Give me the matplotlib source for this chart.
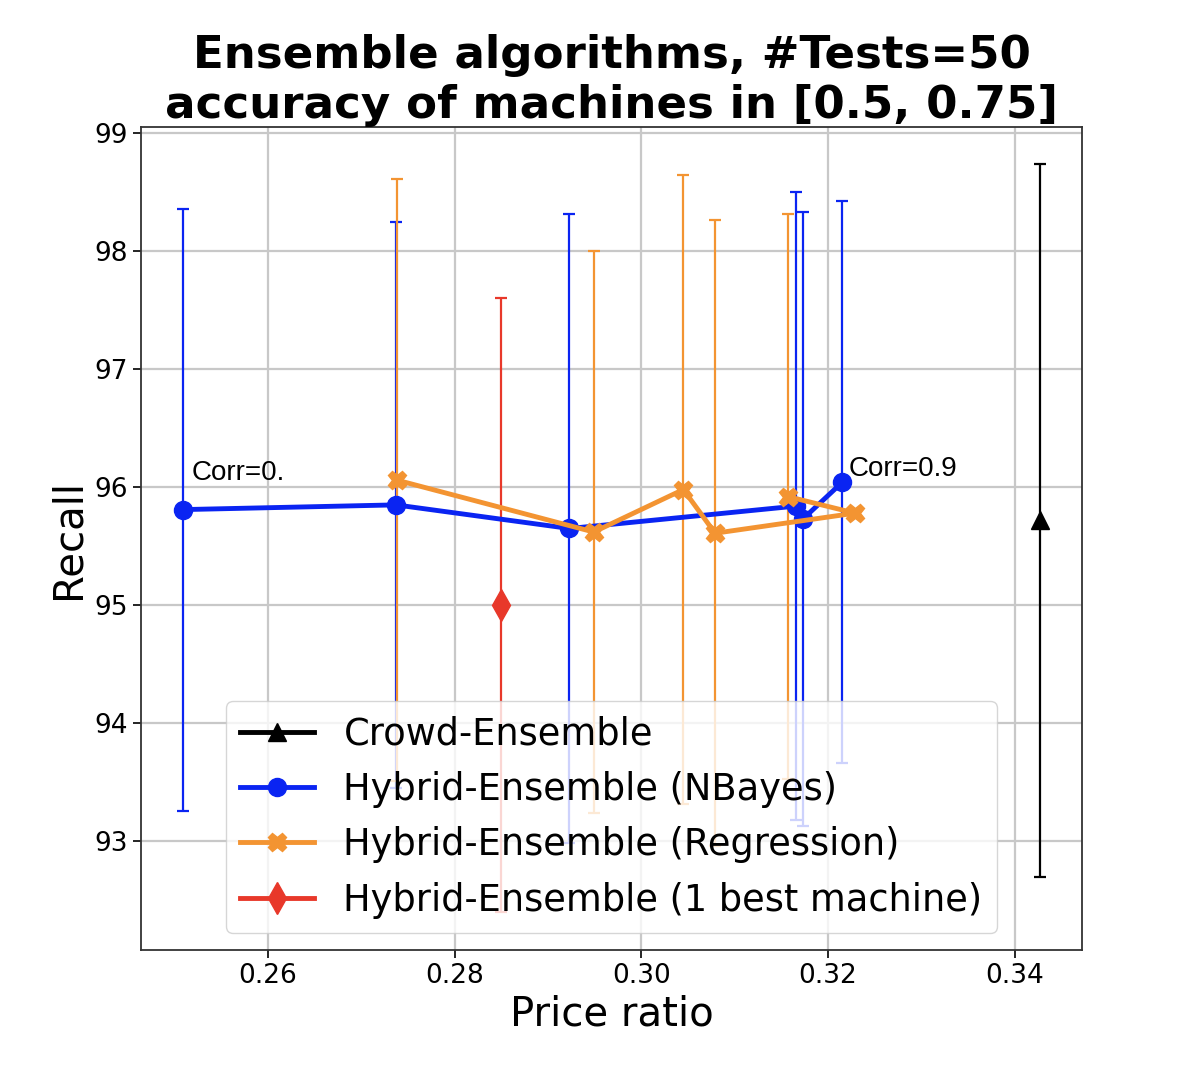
import matplotlib
matplotlib.use("Agg")
import matplotlib.pyplot as plt
from matplotlib.lines import Line2D

# Data
crowd_x = [0.3427]
crowd_y = [95.72]
crowd_err = [3.02]

nb_x = [0.2509, 0.2737, 0.2923, 0.3166, 0.3173, 0.3215]
nb_y = [95.81, 95.85, 95.65, 95.84, 95.73, 96.04]
nb_err = [2.55, 2.40, 2.66, 2.66, 2.60, 2.38]

reg_x = [0.2738, 0.2949, 0.3045, 0.3079, 0.3229, 0.3157]
reg_y = [96.06, 95.62, 95.98, 95.61, 95.78, 95.92]
reg_err = [2.55, 2.38, 2.66, 2.65, 0.0, 2.39]

best_x = [0.2850]
best_y = [95.00]
best_err = [2.60]

labels = ["Crowd-Ensemble", "Hybrid-Ensemble (NBayes)",
          "Hybrid-Ensemble (Regression)", "Hybrid-Ensemble (1 best machine)"]
corr_texts = ["Corr=0.", "Corr=0.9"]

c_black = "#000000"
c_blue = "#0a24f2"
c_orange = "#f39432"
c_red = "#e8382a"

fig = plt.figure(figsize=(11.9, 10.84), dpi=100)
ax = fig.add_axes([0.1185, 0.1236, 0.7907, 0.7592])

common = dict(elinewidth=1.6, capsize=4, capthick=1.6, lw=3.5)
series = [
    (crowd_x, crowd_y, crowd_err, c_black, "^", 13),
    (nb_x, nb_y, nb_err, c_blue, "o", 13),
    (reg_x, reg_y, reg_err, c_orange, "X", 13),
    (best_x, best_y, best_err, c_red, "d", 16),
]
handles = []
for (xs, ys, es, col, mk, ms), lab in zip(series, labels):
    ax.errorbar(xs, ys, yerr=es, color=col, marker=mk, markersize=ms, **common)
    handles.append(Line2D([], [], color=col, marker=mk, markersize=ms,
                          lw=3.5, label=lab))

ax.text(nb_x[0] + 0.0009, nb_y[0] + 0.2, corr_texts[0], fontsize=20,
        family="Liberation Sans", va="bottom", ha="left")
ax.text(nb_x[-1] + 0.0007, nb_y[-1] + 0.0, corr_texts[1], fontsize=20,
        family="Liberation Sans", va="bottom", ha="left")

ax.set_xlim(0.2464, 0.3472)
ax.set_ylim(92.08, 99.05)
ax.set_xticks([0.26, 0.28, 0.30, 0.32, 0.34])
ax.set_yticks([93, 94, 95, 96, 97, 98, 99])
ax.tick_params(labelsize=19, length=6, width=1.2)
ax.grid(True, color="#c8c8c8", lw=1.6)
ax.set_axisbelow(True)
for s in ax.spines.values():
    s.set_color("#333333")
    s.set_linewidth(1.3)

ax.set_xlabel("Price ratio", fontsize=29)
ax.set_ylabel("Recall", fontsize=29)
ax.set_title("Ensemble algorithms, #Tests=50\naccuracy of machines in [0.5, 0.75]",
             fontsize=32.5, fontweight="bold", linespacing=1.2, pad=4)

leg = ax.legend(handles=handles, loc="lower center", fontsize=26.5,
                borderaxespad=0.45, handlelength=2.0, labelspacing=0.5)

fig.savefig("out.png", dpi=100)
